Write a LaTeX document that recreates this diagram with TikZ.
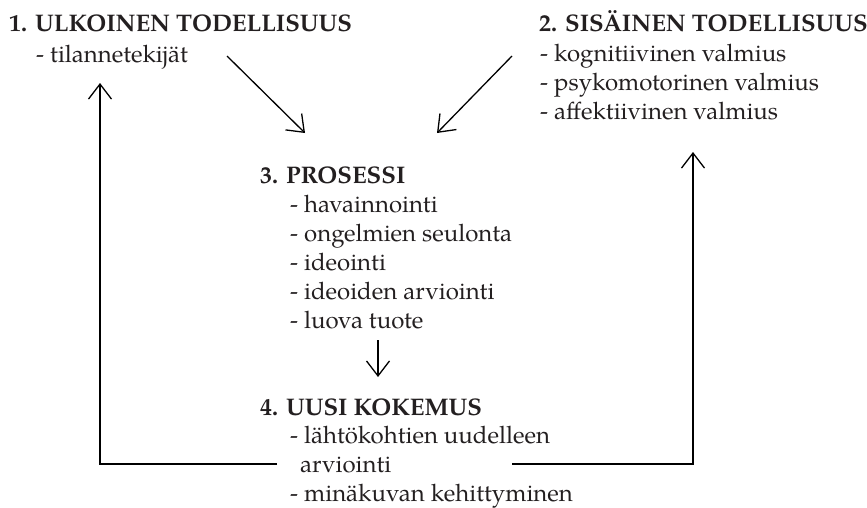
\documentclass[tikz,border=0pt]{standalone}
\usepackage{fontspec}
\setmainfont{TeX Gyre Pagella}
\usetikzlibrary{arrows.meta}
\definecolor{ink}{HTML}{231F20}
\begin{document}
\begin{tikzpicture}[x=1pt,y=-1pt,
  txt/.style={anchor=base west, inner sep=0pt, text=ink,
    font=\fontsize{24}{29}\selectfont},
  head/.style={txt, font=\fontsize{24}{29}\selectfont\bfseries},
  flow/.style={line width=1.3pt, draw=black,
    -{Straight Barb[length=15pt,width=23pt,line width=1.3pt]}}]
\useasboundingbox (0,0) rectangle (867,507);

% 1. outer reality
\node[head] (h1) at (9,31) {1. ULKOINEN TODELLISUUS};
\node[txt]  (h1a) at (36,62) {- tilannetekijät};

% 2. inner reality
\node[head] (h2) at (539,31) {2. SISÄINEN TODELLISUUS};
\node[txt]  (h2a) at (540,61) {- kognitiivinen valmius};
\node[txt]  (h2b) at (540,90) {- psykomotorinen valmius};
\node[txt]  (h2c) at (540,119) {- affektiivinen valmius};

% 3. process
\node[head] (h3) at (260,183) {3. PROSESSI};
\node[txt]  (h3a) at (290,212) {- havainnointi};
\node[txt]  (h3b) at (290,241) {- ongelmien seulonta};
\node[txt]  (h3c) at (290,270) {- ideointi};
\node[txt]  (h3d) at (290,299) {- ideoiden arviointi};
\node[txt]  (h3e) at (290,328) {- luova tuote};

% 4. new experience
\node[head] (h4) at (260,415) {4. UUSI KOKEMUS};
\node[txt]  (h4a) at (290,443) {- lähtökohtien uudelleen};
\node[txt]  (h4b) at (300,472) {arviointi};
\node[txt]  (h4c) at (290,501) {- minäkuvan kehittyminen};

% connector end points
\coordinate (d1s) at (227,56);  \coordinate (d1e) at (305,133);
\coordinate (d2s) at (512,56);  \coordinate (d2e) at (437,133);
\coordinate (ds)  at (378,340); \coordinate (de)  at (378,377);
\coordinate (ls)  at (277,464); \coordinate (lc)  at (100,464); \coordinate (le) at (100,83);
\coordinate (rs)  at (512,464); \coordinate (rc)  at (693,464); \coordinate (re) at (693,152);

\draw[flow] (d1s) -- (d1e);
\draw[flow] (d2s) -- (d2e);
\draw[flow] (ds) -- (de);
\draw[flow] (ls) -- (lc) -- (le);
\draw[flow] (rs) -- (rc) -- (re);
\end{tikzpicture}
\end{document}
